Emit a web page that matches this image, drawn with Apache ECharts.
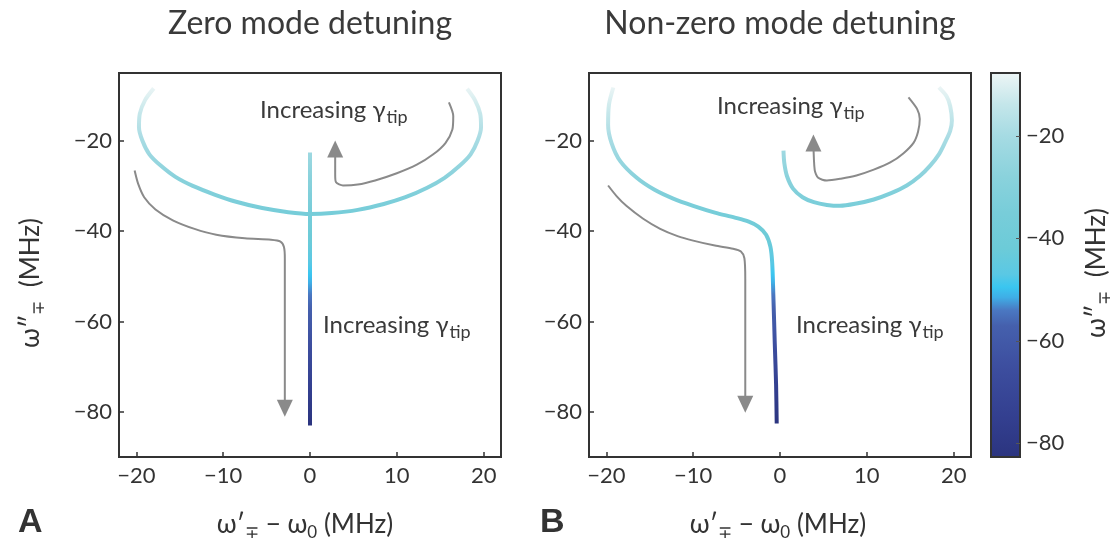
<!DOCTYPE html>
<html>
<head>
<meta charset="utf-8">
<script src="https://cdn.jsdelivr.net/npm/echarts@6/dist/echarts.min.js"></script>
<style>
html,body{margin:0;padding:0;background:#fff;}
#chart{width:1119px;height:550px;}
</style>
</head>
<body>
<div id="chart"></div>
<script>
// ---- data ----
const xTickValues = [-20, -10, 0, 10, 20];
const yTickValues = [-80, -60, -40, -20];
const cbTickValues = [-80, -60, -40, -20];
const cbRange = [-82.7, -7.7];

// Panel A: zero mode detuning
const aUpperBranch = [[-18.0,-8.4],[-19.0,-11],[-19.6,-14],[-19.7,-17],[-19.3,-20],[-18.5,-23],[-17.2,-25.5],[-15.5,-28],[-13.5,-30],[-11,-31.9],[-8.5,-33.5],[-5.5,-34.9],[-2.5,-35.8],[0,-36.2],[2.5,-36.0],[5.5,-35.3],[8.5,-34.0],[11,-32.5],[13.5,-30.4],[15.5,-28.2],[17.2,-25.6],[18.5,-23],[19.3,-20],[19.7,-17],[19.6,-14],[19.0,-11],[18.1,-8.5]];
const aVertical = [[0,-22.6],[0,-36],[0,-50],[0,-65],[0,-83]];
const aArrowDown = [[-20.2,-26.6],[-19.8,-29.5],[-19.1,-32.5],[-17.8,-35.2],[-15.8,-37.6],[-13.3,-39.5],[-10.8,-40.8],[-7.5,-41.6],[-4.5,-41.9],[-3.4,-42.3],[-3.0,-43.5],[-2.9,-46],[-2.9,-79.2]];
const aArrowUp = [[16.0,-11.5],[16.5,-14.5],[16.4,-17.5],[15.6,-20.5],[14.2,-23],[12.3,-25.3],[10,-27.2],[7.5,-28.8],[5.5,-29.7],[3.8,-29.9],[3.0,-29.2],[2.9,-27.5],[2.9,-21.8]];

// Panel B: non-zero mode detuning
const bLeftBranch = [[-19.2,-8.2],[-19.7,-12],[-19.8,-16.5],[-19.4,-20.5],[-18.4,-24.5],[-16.5,-28.2],[-14.5,-30.8],[-12.3,-32.8],[-10,-34.4],[-7.5,-35.9],[-5.2,-37],[-3.6,-37.9],[-2.5,-39],[-1.6,-40.8],[-1.1,-43.5],[-0.9,-47],[-0.77,-54],[-0.6,-65],[-0.45,-74],[-0.38,-82.6]];
const bRightBranch = [[0.4,-22.2],[0.5,-25],[0.8,-27.8],[1.5,-30.6],[2.6,-32.5],[3.9,-33.6],[5.4,-34.2],[6.9,-34.4],[8.8,-33.9],[10.8,-33],[12.8,-31.6],[14.6,-29.9],[16.1,-27.8],[17.3,-25.5],[18.3,-23],[19.0,-20.4],[19.6,-17.8],[19.8,-15.5],[19.6,-12.3],[19.2,-10.2],[18.3,-8.2]];
const bArrowDown = [[-19.8,-29.9],[-18.8,-32.3],[-17.7,-34.4],[-15.8,-37.2],[-13.8,-39.5],[-11.8,-41.1],[-10,-42.1],[-7.5,-43.2],[-5.4,-43.9],[-4.5,-44.5],[-4.1,-46],[-4.0,-50.6],[-4.0,-78.3]];
const bArrowUp = [[14.8,-10.4],[15.8,-13],[16.1,-15.2],[15.9,-18],[15.4,-20.4],[14.2,-22.8],[12.7,-24.8],[10.8,-26.4],[8.8,-27.7],[7,-28.4],[5.4,-28.8],[4.4,-28.2],[4.0,-26.5],[3.85,-20.5]];

// colormap stops (value, colour)
const cmapStops = [[-82.7,'#2b347f'],[-75,'#333f8f'],[-65,'#3d4e9f'],[-57,'#4560ad'],[-54,'#4a78c2'],[-51.5,'#3faee6'],[-49.5,'#3ac6f0'],[-47,'#5ac8e4'],[-42,'#6ccbd8'],[-35,'#78cdd9'],[-28,'#8ad2dc'],[-20,'#a6dbe3'],[-14,'#c4e6ea'],[-7.7,'#eef6f6']];

// ---- helpers ----
function hex2rgb(h){return [parseInt(h.slice(1,3),16),parseInt(h.slice(3,5),16),parseInt(h.slice(5,7),16)];}
function colorAt(v){
  for(let i=0;i<cmapStops.length-1;i++){
    const [v0,c0]=cmapStops[i],[v1,c1]=cmapStops[i+1];
    if(v>=v0 && v<=v1){
      const t=(v-v0)/(v1-v0), a=hex2rgb(c0), b=hex2rgb(c1);
      return 'rgb('+a.map((x,k)=>Math.round(x+(b[k]-x)*t)).join(',')+')';
    }
  }
  return v<cmapStops[0][0]?cmapStops[0][1]:cmapStops[cmapStops.length-1][1];
}
const N=151;
const cmapList=[];
for(let i=0;i<N;i++){cmapList.push(colorAt(cbRange[0]+(cbRange[1]-cbRange[0])*i/(N-1)));}
const gradStops = cmapStops.map(([v,c])=>({offset:(v-cbRange[0])/(cbRange[1]-cbRange[0]), color:c}));

const fmt = v => v<0 ? '\u2212'+Math.abs(v) : String(v);
const FONT = 'Lato';
const TXT = '#333';
const GRAY = '#8a8a8a';

function arrowData(arr, rot){
  return arr.map((p,i)=> i===arr.length-1 ? {value:p, symbol:'triangle', symbolSize:[16,17], symbolRotate:rot, itemStyle:{color:GRAY}} : {value:p});
}

function xAxisCfg(g){
  return {gridIndex:g, type:'value', min:-22, max:22,
    axisLine:{onZero:false,lineStyle:{color:'#333',width:2}},
    axisTick:{inside:true,length:5,customValues:xTickValues,lineStyle:{color:'#333',width:1.5}},
    axisLabel:{customValues:xTickValues,formatter:fmt,color:TXT,fontSize:22,fontFamily:FONT,margin:8},
    splitLine:{show:false}};
}
function yAxisCfg(g){
  return {gridIndex:g, type:'value', min:-90, max:-5,
    axisLine:{onZero:false,lineStyle:{color:'#333',width:2}},
    axisTick:{inside:true,length:5,customValues:yTickValues,lineStyle:{color:'#333',width:1.5}},
    axisLabel:{customValues:yTickValues,formatter:fmt,color:TXT,fontSize:22,fontFamily:FONT,margin:7},
    splitLine:{show:false}};
}

const lineBase = {type:'line', symbol:'none', smooth:0.3, animation:false, silent:true};

const richLbl = {
  m:{fontSize:24,fontFamily:FONT,fill:'#3a3a3a',lineHeight:30},
  s:{fontSize:18,fontFamily:FONT,fill:'#3a3a3a',padding:[14,0,0,1]}
};
const richAx = {
  m:{fontSize:26,fontFamily:FONT,fill:TXT,lineHeight:32},
  s:{fontSize:17,fontFamily:FONT,fill:TXT,padding:[15,0,0,0]}
};

function incText(x,y){
  return {type:'text', x:x, y:y, style:{text:'{m|Increasing \u03b3}{s|tip}', rich:richLbl, align:'left', verticalAlign:'middle'}};
}

const option = {
  animation:false,
  backgroundColor:'#fff',
  grid:[
    {left:119, top:73, width:382, height:384, show:true, borderColor:'#333', borderWidth:2},
    {left:589, top:73, width:382, height:384, show:true, borderColor:'#333', borderWidth:2},
    {left:991, top:73, width:29, height:384}
  ],
  xAxis:[ xAxisCfg(0), xAxisCfg(1),
    {gridIndex:2,type:'value',min:0,max:1,show:false}
  ],
  yAxis:[ yAxisCfg(0), yAxisCfg(1),
    {gridIndex:2,type:'value',min:cbRange[0],max:cbRange[1],position:'right',
     axisLine:{show:false,onZero:false},
     axisTick:{inside:true,length:4,customValues:cbTickValues,lineStyle:{color:'#555',width:1}},
     axisLabel:{customValues:cbTickValues,formatter:fmt,color:TXT,fontSize:22,fontFamily:FONT,margin:6},
     splitLine:{show:false}, z:5}
  ],
  visualMap:[{type:'continuous', show:false, dimension:1, min:cbRange[0], max:cbRange[1], seriesIndex:[0,1,4,5], inRange:{color:cmapList}}],
  series:[
    Object.assign({}, lineBase, {xAxisIndex:0,yAxisIndex:0,data:aUpperBranch,lineStyle:{width:4}}),
    Object.assign({}, lineBase, {xAxisIndex:0,yAxisIndex:0,data:aVertical,smooth:false,lineStyle:{width:4}}),
    Object.assign({}, lineBase, {xAxisIndex:0,yAxisIndex:0,data:arrowData(aArrowDown,180),showSymbol:true,showAllSymbol:true,lineStyle:{width:2,color:GRAY},itemStyle:{color:GRAY},smooth:0.25}),
    Object.assign({}, lineBase, {xAxisIndex:0,yAxisIndex:0,data:arrowData(aArrowUp,0),showSymbol:true,showAllSymbol:true,lineStyle:{width:2,color:GRAY},itemStyle:{color:GRAY},smooth:0.25}),
    Object.assign({}, lineBase, {xAxisIndex:1,yAxisIndex:1,data:bLeftBranch,lineStyle:{width:4}}),
    Object.assign({}, lineBase, {xAxisIndex:1,yAxisIndex:1,data:bRightBranch,lineStyle:{width:4}}),
    Object.assign({}, lineBase, {xAxisIndex:1,yAxisIndex:1,data:arrowData(bArrowDown,180),showSymbol:true,showAllSymbol:true,lineStyle:{width:2,color:GRAY},itemStyle:{color:GRAY},smooth:0.25}),
    Object.assign({}, lineBase, {xAxisIndex:1,yAxisIndex:1,data:arrowData(bArrowUp,0),showSymbol:true,showAllSymbol:true,lineStyle:{width:2,color:GRAY},itemStyle:{color:GRAY},smooth:0.25}),
    {type:'custom', xAxisIndex:2, yAxisIndex:2, silent:true, animation:false,
     encode:{x:0,y:[1,2]},
     data:[[0, cbRange[0], cbRange[1]]],
     renderItem:function(params, api){
       const p1 = api.coord([0, api.value(2)]);
       const p2 = api.coord([1, api.value(1)]);
       return {type:'rect', shape:{x:p1[0], y:p1[1], width:p2[0]-p1[0], height:p2[1]-p1[1]},
         style:{fill:new echarts.graphic.LinearGradient(0,1,0,0,gradStops), stroke:'#333', lineWidth:2}};
     }}
  ],
  graphic:[
    {type:'text', x:310, y:24, style:{text:'Zero mode detuning', font:'32px '+FONT, fill:'#3a3a3a', align:'center', verticalAlign:'middle'}},
    {type:'text', x:780, y:24, style:{text:'Non-zero mode detuning', font:'32px '+FONT, fill:'#3a3a3a', align:'center', verticalAlign:'middle'}},
    incText(260,110), incText(323,325), incText(717,106), incText(796,325),
    {type:'text', x:18, y:523, style:{text:'A', font:'bold 34px "Liberation Sans"', fill:'#333', align:'left', verticalAlign:'middle'}},
    {type:'text', x:540, y:523, style:{text:'B', font:'bold 34px "Liberation Sans"', fill:'#333', align:'left', verticalAlign:'middle'}},
    {type:'text', x:305, y:525, style:{text:'{m|\u03c9\u2032}{s|\u2213}{m| \u2212 \u03c9}{s|0}{m| (MHz)}', rich:richAx, align:'center', verticalAlign:'middle'}},
    {type:'text', x:778, y:525, style:{text:'{m|\u03c9\u2032}{s|\u2213}{m| \u2212 \u03c9}{s|0}{m| (MHz)}', rich:richAx, align:'center', verticalAlign:'middle'}},
    {type:'text', x:31, y:283, rotation:Math.PI/2, style:{text:'{m|\u03c9\u2033}{s|\u2213}{m|  (MHz)}', rich:richAx, align:'center', verticalAlign:'middle'}},
    {type:'text', x:1097, y:273, rotation:Math.PI/2, style:{text:'{m|\u03c9\u2033}{s|\u2213}{m|  (MHz)}', rich:richAx, align:'center', verticalAlign:'middle'}}
  ]
};

const chart = echarts.init(document.getElementById('chart'), null, {renderer:'canvas'});
chart.setOption(option);
</script>
</body>
</html>
